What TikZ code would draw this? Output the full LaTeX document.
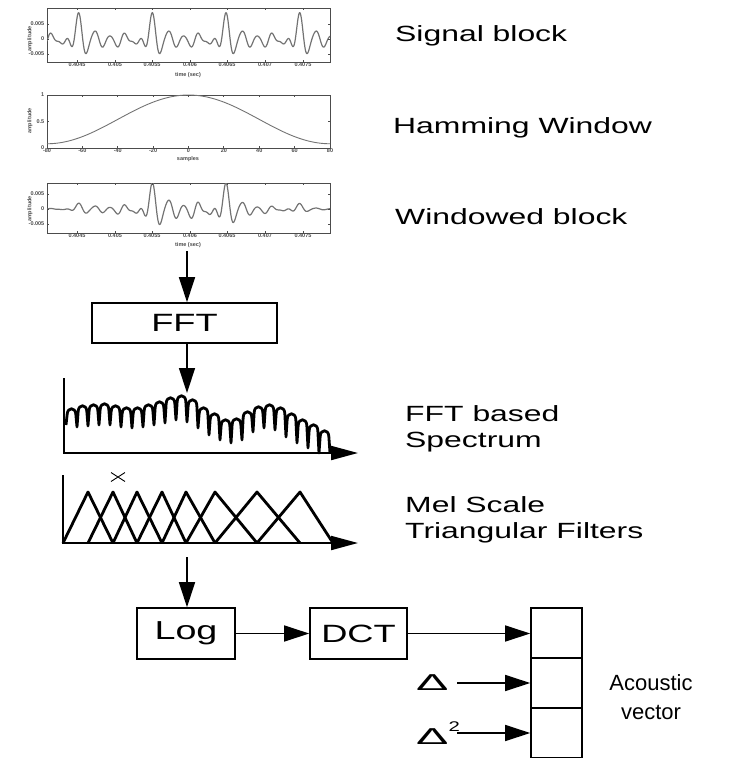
\documentclass[tikz,border=0pt]{standalone}
\usepackage{fontspec}
\usepackage{graphicx}
\setmainfont{Liberation Sans}
\newfontfamily\widefont[FakeStretch=1.45]{Liberation Sans}
\usetikzlibrary{arrows.meta}

\tikzset{
  plotframe/.style={draw=black!70, line width=0.8pt},
  wave/.style={draw=black!55, line width=1.2pt, line join=round},
  ticklab/.style={font=\fontsize{5.5}{5.5}\selectfont\bfseries, text=black!70, inner sep=0.5pt},
  stage/.style={draw, line width=1.6pt, inner sep=0pt, font=\widefont\fontsize{25}{25}\selectfont},
  arr/.style={line width=1.4pt, -{Triangle[length=25pt,width=16pt]}},
  axisarr/.style={line width=2pt, -{Triangle[length=27pt,width=14pt]}},
  caption/.style={anchor=west, align=left, inner sep=0pt, font=\widefont\fontsize{22}{26}\selectfont},
  heavy/.style={line width=2.8pt, line join=round},
  cell/.style={draw, line width=1.6pt, minimum width=51pt, minimum height=50pt, inner sep=0pt},
}

\begin{document}
\begin{tikzpicture}[x=1pt, y=-1pt,
  declare function={
    th(\x) = 4.8847*(\x-79);
    sg(\x) = 0.1*(cos(th(\x)) + cos(2*th(\x)) + cos(3*th(\x)) + cos(4*th(\x))
                  + cos(5*th(\x)) + cos(6*th(\x)) + cos(7*th(\x)))
           + 0.22*cos(5*th(\x) - 20) + 0.15*cos(4*th(\x) + 70) + 0.12*cos(3*th(\x) + 60)
           + 0.08*cos(8*th(\x) + 30);
    hm(\x) = 0.54 - 0.46*cos(1.27208*(\x-47));
  }]
\useasboundingbox (0,0) rectangle (734,758);

% ---------- signal block ----------
\draw[plotframe] (47,8) rectangle (330,62);
\begin{scope}
  \clip (47,8) rectangle (330,62);
  \draw[wave] plot[domain=47:330, samples=420] (\x, {39 - 24*sg(\x)});
\end{scope}
\foreach \t/\l [count=\k] in {77/0.4045, 115/0.405, 152/0.4055, 190/0.406, 227/0.4065, 265/0.407, 303/0.4075} {
  \draw[plotframe] (\t,62) -- (\t,60) (\t,8) -- (\t,10);
  \node[ticklab, below] (sx\k) at (\t,62) {\l};
}
\foreach \v/\l [count=\k] in {24/0.005, 39/0, 54/-0.005} {
  \draw[plotframe] (47,\v) -- (49,\v) (330,\v) -- (328,\v);
  \node[ticklab, anchor=east] (sy\k) at (45,\v) {\l};
}
\node[ticklab] (sxl) at (188,75) {time (sec)};
\node[ticklab, rotate=90] (syl) at (30,39) {amplitude};

% ---------- Hamming window ----------
\draw[plotframe] (47,95) rectangle (330,148);
\draw[wave, line width=0.9pt] plot[domain=47:330, samples=200] (\x, {148 - 53*hm(\x)});
\foreach \l [count=\k from 0] in {-80,-60,-40,-20,0,20,40,60,80} {
  \draw[plotframe] ({47+283*\k/8},148) -- ({47+283*\k/8},146) ({47+283*\k/8},95) -- ({47+283*\k/8},97);
  \node[ticklab, below] (hx\k) at ({47+283*\k/8},148) {\l};
}
\foreach \v/\l [count=\k] in {95/1, 121.5/0.5, 148/0} {
  \draw[plotframe] (47,\v) -- (49,\v) (330,\v) -- (328,\v);
  \node[ticklab, anchor=east] (hy\k) at (45,\v) {\l};
}
\node[ticklab] (hxl) at (188,159) {samples};
\node[ticklab, rotate=90] (hyl) at (30,121) {amplitude};

% ---------- windowed block ----------
\draw[plotframe] (47,183) rectangle (330,233);
\begin{scope}
  \clip (47,183) rectangle (330,233);
  \draw[wave] plot[domain=47:330, samples=420] (\x, {209 - 28*sg(\x)*hm(\x)});
\end{scope}
\foreach \t/\l [count=\k] in {77/0.4045, 115/0.405, 152/0.4055, 190/0.406, 227/0.4065, 265/0.407, 303/0.4075} {
  \draw[plotframe] (\t,233) -- (\t,231) (\t,183) -- (\t,185);
  \node[ticklab, below] (wx\k) at (\t,233) {\l};
}
\foreach \v/\l [count=\k] in {194/0.005, 209/0, 224/-0.005} {
  \draw[plotframe] (47,\v) -- (49,\v) (330,\v) -- (328,\v);
  \node[ticklab, anchor=east] (wy\k) at (45,\v) {\l};
}
\node[ticklab] (wxl) at (188,245) {time (sec)};
\node[ticklab, rotate=90] (wyl) at (30,209) {amplitude};

% ---------- FFT ----------
\node[stage, minimum width=185pt, minimum height=40pt] (fft) at (184.5,323) {FFT};
\coordinate (winout) at (187,251);
\draw[arr] (winout) -- (winout |- fft.north);
\coordinate (specin) at (187,393);
\draw[arr] (fft.south -| specin) -- (specin);

% ---------- spectrum ----------
\draw[line width=2pt] (64,378) -- (64,453);
\draw[axisarr] (63,453) -- (358,453);
\draw[heavy] (66,425)
  \foreach \i/\t/\d in {0/408/427, 1/405/426, 2/404/425, 3/403/425, 4/405/427, 5/407/428,
                        6/407/427, 7/404/425, 8/401/423, 9/397/420, 10/395/422, 11/399/428,
                        12/407/435, 13/413/440, 14/419/443, 15/418/440, 16/411/432, 17/406/428,
                        18/404/430, 19/407/437, 20/413/443, 21/419/448, 22/424/453, 23/430/453} {
    -- ({66+11*\i+1.2},{\t+6})
    .. controls ({66+11*\i+1.8},{\t-1}) and ({66+11*\i+9.2},{\t-1}) .. ({66+11*\i+9.8},{\t+6})
    -- ({66+11*\i+11},\d)
  };

% ---------- mel filter bank ----------
\draw[line width=2pt] (63,475) -- (63,543);
\draw[axisarr] (62,543) -- (358,543);
\foreach \a/\b/\c in {63/88/113, 88/113/137, 113/137/162, 137/162/186,
                      162/186/215, 186/215/257, 215/257/300, 257/300/333} {
  \draw[heavy] (\a,543) -- (\b,492) -- (\c,543);
}
\draw[line width=0.9pt] (111,472.5) -- (125,481.5) (111,481.5) -- (125,472.5);

% ---------- Log, DCT, acoustic vector ----------
\node[stage, minimum width=98pt, minimum height=51pt, font=\widefont\fontsize{26}{26}\selectfont] (log) at (186,633.5) {Log};
\node[stage, minimum width=97pt, minimum height=51pt] (dct) at (358.5,633.5) {DCT};
\coordinate (melout) at (187,557);
\draw[arr] (melout) -- (melout |- log.north);
\draw[arr] (log.east) -- (dct.west);

\node[cell] (v1) at (556.5,633) {};
\node[cell] (v2) at (556.5,683) {};
\node[cell] (v3) at (556.5,733) {};
\draw[arr] (dct.east) -- (dct.east -| v1.west);

\node[anchor=west, inner sep=0pt, font=\widefont\fontsize{23}{23}\selectfont] (d1) at (416,683) {\scalebox{1.45}[1]{Δ}};
\node[anchor=west, inner sep=0pt, font=\widefont\fontsize{23}{23}\selectfont] (d2) at (416,733) {\scalebox{1.45}[1]{Δ}\raisebox{0.55em}{\fontsize{14}{14}\selectfont 2}};
\coordinate (d1out) at (457,683);
\coordinate (d2out) at (457,733);
\draw[arr] (d1out) -- (d1out -| v2.west);
\draw[arr] (d2out) -- (d2out -| v3.west);

\node[align=center, inner sep=0pt, font=\fontsize{22}{29}\selectfont] (acv) at (651,697) {Acoustic\\vector};

% ---------- captions ----------
\node[caption] (c1) at (395,36) {Signal block};
\node[caption] (c2) at (393,128) {Hamming Window};
\node[caption] (c3) at (395,217) {Windowed block};
\node[caption] (c4) at (405,429) {FFT based\\Spectrum};
\node[caption] (c5) at (405,520) {Mel Scale\\Triangular Filters};
\end{tikzpicture}
\end{document}
